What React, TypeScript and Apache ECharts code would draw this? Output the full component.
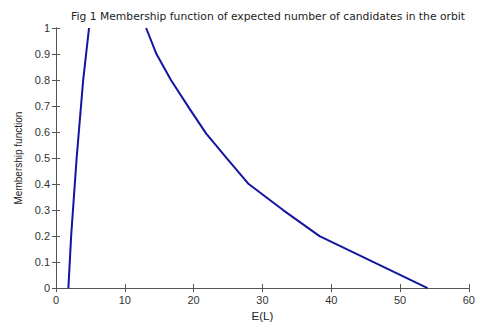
import React, { useEffect, useRef } from "react";
import * as echarts from "echarts";

const risingX = [1.8, 2.2, 3.0, 3.95, 4.8];
const risingY = [0, 0.2, 0.5, 0.8, 1.0];
const fallingX = [13.1, 14.6, 16.7, 19.4, 21.8, 24.8, 28.0, 33.0, 38.3, 54.0];
const fallingY = [1.0, 0.9, 0.8, 0.69, 0.595, 0.5, 0.4, 0.3, 0.2, 0];
const xTicks = [0, 10, 20, 30, 40, 50, 60];
const yTicks = [0, 0.1, 0.2, 0.3, 0.4, 0.5, 0.6, 0.7, 0.8, 0.9, 1];

const title = "Fig 1 Membership function of expected number of candidates in the orbit";
const xName = "E(L)";
const yName = "Membership function";

export default function App() {
  const ref = useRef<HTMLDivElement>(null);
  useEffect(() => {
    if (!ref.current) return;
    const chart = echarts.init(ref.current, undefined, { renderer: "svg" });
    const axisColor = "#555";
    const font = "Arial, 'Liberation Sans', sans-serif";
    const common = {
      axisLine: { lineStyle: { color: axisColor, width: 1 } },
      axisTick: { inside: true, length: 4, lineStyle: { color: axisColor } },
      splitLine: { show: false },
    };
    const lineStyle = { color: "#1414a0", width: 2 };
    chart.setOption({
      animation: false,
      backgroundColor: "#fff",
      title: {
        text: title,
        left: 263,
        textAlign: "center",
        top: 6,
        textStyle: { fontSize: 10.75, fontWeight: "normal", color: "#222", fontFamily: "'DejaVu Sans', sans-serif" },
      },
      grid: { left: 56, right: 7, top: 28, bottom: 31 },
      xAxis: [
        {
          type: "value",
          min: 0,
          max: 60,
          interval: 10,
          position: "bottom",
          name: xName,
          nameLocation: "middle",
          nameGap: 21,
          nameTextStyle: { fontSize: 11.5, color: "#222", fontFamily: font },
          axisLabel: { fontSize: 11, color: "#333", fontFamily: font, margin: 6, formatter: (v: number) => (xTicks.includes(v) ? String(v) : "") },
          ...common,
        },
        {
          type: "value",
          min: 0,
          max: 60,
          interval: 10,
          position: "top",
          axisLabel: { show: false },
          ...common,
        },
      ],
      yAxis: [
        {
          type: "value",
          min: 0,
          max: 1,
          interval: 0.1,
          position: "left",
          name: yName,
          nameLocation: "middle",
          nameGap: 31,
          nameTextStyle: { fontSize: 10, color: "#222", fontFamily: font },
          axisLabel: {
            fontSize: 11,
            color: "#333",
            fontFamily: font,
            margin: 6,
            formatter: (v: number) => {
              const t = yTicks.find((y) => Math.abs(y - v) < 1e-6);
              return t === undefined ? "" : String(t);
            },
          },
          ...common,
        },
        {
          type: "value",
          min: 0,
          max: 1,
          interval: 0.1,
          position: "right",
          axisLabel: { show: false },
          ...common,
        },
      ],
      series: [
        {
          type: "line",
          data: risingX.map((x, i) => [x, risingY[i]]),
          showSymbol: false,
          lineStyle,
        },
        {
          type: "line",
          data: fallingX.map((x, i) => [x, fallingY[i]]),
          showSymbol: false,
          lineStyle,
        },
      ],
    });
    return () => chart.dispose();
  }, []);
  return <div ref={ref} style={{ width: 478, height: 327, position: "absolute", left: 0, top: 0 }} />;
}
